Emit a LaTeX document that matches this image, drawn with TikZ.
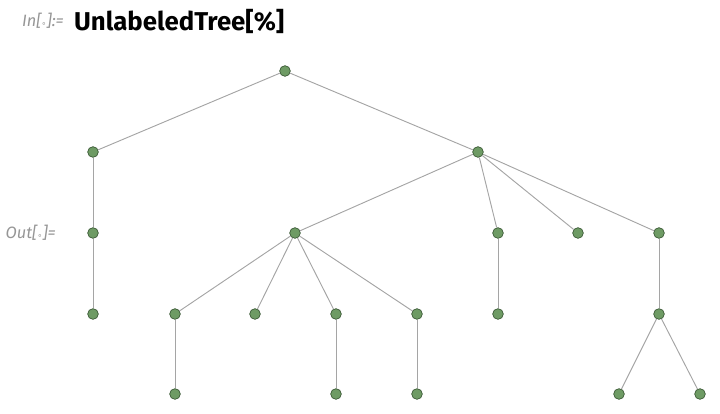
\documentclass[tikz,border=0pt]{standalone}
\usepackage{fontspec}
\setmainfont{Fira Sans}
\newfontfamily\symfont{DejaVu Sans}
\definecolor{vfill}{RGB}{110,155,100}
\definecolor{vdraw}{RGB}{60,90,55}
\definecolor{edgegray}{RGB}{165,165,165}
\definecolor{labgray}{RGB}{150,150,150}
\tikzset{
  vtx/.style={circle,fill=vfill,draw=vdraw,line width=0.6pt,inner sep=0pt,minimum size=0.32cm},
  edge/.style={draw=edgegray,line width=0.8pt},
  cellab/.style={text=labgray,font=\itshape\fontsize{14}{16}\selectfont,anchor=east}
}
\begin{document}
\begin{tikzpicture}[x=0.03cm,y=-0.03cm]
	\useasboundingbox (0,0) rectangle (720,413);
	\node[cellab] (inlab) at (68,21) {In[{\symfont\scriptsize∘}]:=};
	\node[anchor=west,font=\bfseries\fontsize{22}{26}\selectfont] (cmd) at (70,21) {UnlabeledTree[\%]};
	\node[cellab] (outlab) at (60,233) {Out[{\symfont\scriptsize∘}]=};

	\foreach \u/\v in {r/a,r/b,a/a1,a1/a11,b/b1,b/b2,b/b3,b/b4,b1/c1,b1/c2,b1/c3,b1/c4,
		c1/c11,c3/c31,c4/c41,b2/b21,b4/b41,b41/d1,b41/d2}
		\coordinate (dummy) at (0,0);

	\node[vtx] (r) at (285,71) {};
	\node[vtx] (a) at (93,152) {};
	\node[vtx] (b) at (478,152) {};
	\node[vtx] (a1) at (93,233) {};
	\node[vtx] (b1) at (295,233) {};
	\node[vtx] (b2) at (498,233) {};
	\node[vtx] (b3) at (578,233) {};
	\node[vtx] (b4) at (659,233) {};
	\node[vtx] (a11) at (93,314) {};
	\node[vtx] (c1) at (175,314) {};
	\node[vtx] (c2) at (255,314) {};
	\node[vtx] (c3) at (336,314) {};
	\node[vtx] (c4) at (417,314) {};
	\node[vtx] (b21) at (498,314) {};
	\node[vtx] (b41) at (659,314) {};
	\node[vtx] (c11) at (175,394) {};
	\node[vtx] (c31) at (336,394) {};
	\node[vtx] (c41) at (417,394) {};
	\node[vtx] (d1) at (619,394) {};
	\node[vtx] (d2) at (700,394) {};

	\foreach \u/\v in {r/a,r/b,a/a1,a1/a11,b/b1,b/b2,b/b3,b/b4,b1/c1,b1/c2,b1/c3,b1/c4,
		c1/c11,c3/c31,c4/c41,b2/b21,b4/b41,b41/d1,b41/d2}
		\path[edge] (\u) -- (\v);
\end{tikzpicture}
\end{document}
